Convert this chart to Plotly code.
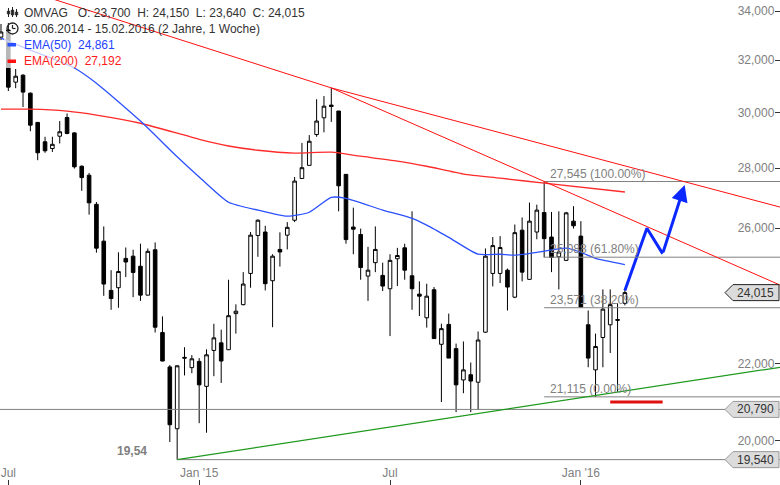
import math
import pandas as pd
import plotly.graph_objects as go

# ---------------- data ----------------
first_week = "2014-06-30"
n_weeks = 86
dates = pd.date_range(first_week, periods=n_weeks, freq="7D")

opens = [32.92, 33.21, 31.14, 31.41, 30.72, 29.63, 28.93, 28.69, 29.13, 29.81,
         29.25, 28.07, 27.76, 26.78, 25.59, 24.08, 24.16, 25.05, 25.12, 24.81,
         23.94, 25.32, 22.86, 21.91, 20.30, 22.17, 21.89, 22.06, 21.39, 22.36,
         22.57, 22.38, 23.40, 23.66, 24.59, 25.77, 25.88, 24.37, 25.33, 25.78,
         26.26, 27.65, 28.10, 29.19, 29.80, 30.27, 30.05, 27.79, 26.04, 25.80,
         24.51, 24.92, 24.53, 24.13, 25.04, 25.38, 24.52, 23.97, 23.28, 24.10,
         22.53, 23.09, 22.41, 21.56, 21.70, 21.50, 22.87, 24.59, 24.59, 24.69,
         23.88, 25.94, 24.41, 25.88, 26.51, 25.72, 25.10, 24.99, 26.23, 25.75,
         23.08, 21.83, 22.72, 23.08, 23.23, 23.700]
highs = [33.46, 33.50, 31.65, 31.45, 30.75, 29.65, 29.11, 29.11, 29.68, 29.96,
         29.27, 28.10, 27.84, 26.86, 26.06, 24.69, 25.24, 25.39, 25.32, 25.51,
         25.36, 25.55, 23.32, 21.96, 21.95, 22.45, 22.23, 22.15, 22.39, 23.11,
         22.94, 24.40, 23.67, 24.63, 25.88, 26.29, 26.08, 25.18, 25.87, 26.20,
         27.70, 28.89, 29.17, 30.49, 30.61, 30.92, 30.05, 27.79, 26.67, 25.99,
         25.41, 26.06, 24.92, 25.18, 25.38, 25.51, 26.55, 24.35, 24.28, 24.18,
         23.11, 23.40, 22.55, 22.61, 22.03, 22.89, 25.36, 25.72, 25.75, 24.74,
         26.12, 26.35, 26.84, 26.77, 27.545, 26.53, 26.55, 26.53, 26.72, 26.23,
         23.49, 22.83, 24.11, 24.11, 23.70, 24.150]
lows = [32.80, 30.80, 30.91, 30.20, 29.31, 28.28, 28.54, 28.57, 28.87, 29.20,
        27.99, 27.23, 26.44, 25.23, 23.92, 23.51, 23.57, 24.48, 23.88, 23.77,
        23.93, 22.86, 22.06, 19.97, 19.54, 21.68, 21.74, 20.44, 20.20, 21.66,
        21.48, 22.37, 22.83, 23.64, 24.16, 25.10, 24.08, 23.01, 24.80, 25.33,
        26.20, 27.63, 28.10, 29.11, 29.27, 29.65, 26.55, 25.51, 25.18, 24.40,
        23.77, 24.63, 24.06, 22.76, 24.21, 24.40, 23.51, 23.33, 23.00, 22.69,
        20.98, 22.15, 20.72, 21.21, 20.72, 20.78, 22.85, 24.20, 24.30, 23.49,
        23.85, 24.35, 24.41, 25.65, 25.08, 24.63, 24.11, 24.97, 25.99, 23.59,
        21.90, 21.115, 21.90, 22.29, 21.25, 23.640]
closes = [33.13, 30.95, 31.37, 30.76, 29.53, 28.54, 28.61, 28.84, 29.29, 29.23,
          28.05, 27.68, 26.83, 25.37, 24.27, 23.84, 24.65, 24.94, 24.62, 23.94,
          25.27, 23.01, 22.07, 20.40, 21.94, 22.15, 22.13, 21.43, 22.24, 22.71,
          22.07, 23.34, 23.47, 24.27, 25.78, 26.26, 24.28, 25.12, 25.25, 26.03,
          27.56, 28.02, 28.95, 29.68, 30.23, 30.22, 27.40, 25.64, 25.97, 24.77,
          24.69, 25.33, 24.21, 24.99, 25.14, 24.69, 24.13, 23.91, 23.91, 22.69,
          22.97, 22.15, 21.43, 21.83, 21.53, 22.65, 25.12, 25.45, 25.39, 24.18,
          25.86, 24.63, 26.23, 26.59, 25.67, 25.08, 25.25, 26.50, 26.08, 23.59,
          22.15, 22.47, 23.53, 23.66, 23.21, 24.015]

ema50_idx = [0, 4, 10, 13, 19, 24, 27, 31, 35, 39, 42, 45, 47, 52, 56, 58, 61,
             65, 68, 70, 73, 77, 79, 81, 85]
ema50_val = [32.88, 32.40, 31.69, 31.10, 29.68, 28.40, 27.70, 26.85, 26.59, 26.39,
             26.52, 27.01, 26.98, 26.59, 26.32, 26.10, 25.71, 25.18, 25.18, 25.15,
             25.24, 25.37, 25.24, 25.05, 24.861]
ema200_idx = [0, 4, 9, 13, 19, 27, 31, 35, 40, 45, 49, 54, 58, 63, 68, 74, 85]
ema200_val = [30.12, 30.12, 30.045, 29.90, 29.60, 29.02, 28.78, 28.63, 28.53, 28.56,
              28.42, 28.25, 28.07, 27.80, 27.66, 27.49, 27.192]

fib_levels = [27.545, 25.088, 23.571, 21.115]
fib_labels = ["100.00%", "61.80%", "38.20%", "0.00%"]
fib_start_idx = 74

support_level = 20.790
low_level = 19.540
low_idx = 24
last_close = 24.015

# trend lines: (start date, start value, end date, end value)
chart_end = "2016-07-11 22:00"
chart_start = "2014-06-29 01:06"
red_lines = [("2014-06-30", 35.22, "2015-05-11", 30.92),
             ("2015-05-11", 30.92, chart_end, 26.69),
             ("2015-05-11", 30.92, chart_end, 24.24)]
green_line = ("2014-12-15", 19.54, chart_end, 21.90)

arrow_dates = ["2016-02-15", "2016-03-07", "2016-03-22", "2016-04-12"]
arrow_values = [24.08, 26.00, 25.20, 27.43]
red_bar = ("2016-02-01", "2016-03-22", 20.98)

NB = "\u00a0"
info_line = ("OMVAG" + NB * 3 + "O: 23,700" + NB * 2 + "H: 24,150" + NB * 2
             + "L: 23,640" + NB * 2 + "C: 24,015")
period_line = "30.06.2014 - 15.02.2016 (2 Jahre, 1 Woche)"
ema50_text = "EMA(50)" + NB * 2 + "24,861"
ema200_text = "EMA(200)" + NB * 2 + "27,192"

x_tickvals = ["2014-07-07", "2015-01-05", "2015-07-06", "2016-01-04"]
x_ticktext = ["Jul", "Jan '15", "Jul", "Jan '16"]
y_tickvals = [20, 22, 26, 28, 30, 32, 34]

# ---------------- figure ----------------
W, H = 780, 485
FONT = "Liberation Sans, Arial, sans-serif"
GRAY = "#808080"
BLUE_EMA = "#2b50ff"
RED_EMA = "#ff2a2a"


def de(v, nd=3):
    return f"{v:.{nd}f}".replace(".", ",")


def px(xp):
    return xp / W


def py(yp):
    return 1 - yp / H


fig = go.Figure()

fig.add_trace(go.Candlestick(
    x=dates, open=opens, high=highs, low=lows, close=closes,
    increasing=dict(line=dict(color="black", width=1), fillcolor="white"),
    decreasing=dict(line=dict(color="black", width=1), fillcolor="black"),
    whiskerwidth=0, hoverinfo="skip", showlegend=False))

fig.add_trace(go.Scatter(
    x=[dates[i] for i in ema200_idx], y=ema200_val, mode="lines",
    line=dict(color=RED_EMA, width=1.3, shape="spline", smoothing=0.6),
    hoverinfo="skip", showlegend=False))
fig.add_trace(go.Scatter(
    x=[dates[i] for i in ema50_idx], y=ema50_val, mode="lines",
    line=dict(color=BLUE_EMA, width=1.3, shape="spline", smoothing=0.6),
    hoverinfo="skip", showlegend=False))

# blue projection path
fig.add_trace(go.Scatter(
    x=arrow_dates[:3], y=arrow_values[:3], mode="lines",
    line=dict(color="#0a28ff", width=3), hoverinfo="skip", showlegend=False))

shapes = []
# horizontal levels
shapes.append(dict(type="line", xref="paper", yref="y", x0=0, x1=1,
                   y0=support_level, y1=support_level,
                   line=dict(color=GRAY, width=1)))
shapes.append(dict(type="line", xref="x", yref="y", x0=dates[low_idx], x1=chart_end,
                   y0=low_level, y1=low_level, line=dict(color=GRAY, width=1)))
for lv in fib_levels:
    shapes.append(dict(type="line", xref="x", yref="y", x0=dates[fib_start_idx],
                       x1=chart_end, y0=lv, y1=lv, line=dict(color=GRAY, width=1)))
# trend lines
for (d0, v0, d1, v1) in red_lines:
    shapes.append(dict(type="line", xref="x", yref="y", x0=d0, y0=v0, x1=d1, y1=v1,
                       line=dict(color="#ff1010", width=1)))
shapes.append(dict(type="line", xref="x", yref="y", x0=green_line[0], y0=green_line[1],
                   x1=green_line[2], y1=green_line[3],
                   line=dict(color="#1f9a1f", width=1.2)))
shapes.append(dict(type="line", xref="x", yref="y", x0=red_bar[0], x1=red_bar[1],
                   y0=red_bar[2], y1=red_bar[2], line=dict(color="#e01010", width=3)))

# legend translucent background
shapes.append(dict(type="rect", xref="paper", yref="paper", x0=px(4), x1=px(130),
                   y0=py(68), y1=py(31), fillcolor="rgba(255,255,255,0.72)",
                   line=dict(width=0), layer="above"))
# legend markers
shapes.append(dict(type="rect", xref="paper", yref="paper", x0=px(7.5), x1=px(16),
                   y0=py(46.5), y1=py(43), fillcolor=BLUE_EMA, line=dict(width=0),
                   layer="above"))
shapes.append(dict(type="rect", xref="paper", yref="paper", x0=px(7.5), x1=px(16),
                   y0=py(63), y1=py(59.5), fillcolor="#ff1010", line=dict(width=0),
                   layer="above"))
# candle icon
for cx, t, b, bt, bb in [(8.5, 8, 17, 11, 14), (12.5, 7, 17, 10, 15), (16.5, 9, 17, 12, 15)]:
    shapes.append(dict(type="line", xref="paper", yref="paper", x0=px(cx), x1=px(cx),
                       y0=py(b), y1=py(t), line=dict(color="#222", width=1),
                       layer="above"))
    shapes.append(dict(type="rect", xref="paper", yref="paper", x0=px(cx - 1.3),
                       x1=px(cx + 1.3), y0=py(bb), y1=py(bt), fillcolor="#222",
                       line=dict(color="#222", width=0.5), layer="above"))
# clock icon
shapes.append(dict(type="circle", xref="paper", yref="paper", x0=px(7), x1=px(18),
                   y0=py(34), y1=py(23), line=dict(color="#222", width=1.3),
                   layer="above"))
shapes.append(dict(type="line", xref="paper", yref="paper", x0=px(12.5), x1=px(12.5),
                   y0=py(28.5), y1=py(25), line=dict(color="#222", width=1.2),
                   layer="above"))
shapes.append(dict(type="line", xref="paper", yref="paper", x0=px(12.5), x1=px(15.5),
                   y0=py(28.5), y1=py(28.5), line=dict(color="#222", width=1.2),
                   layer="above"))

# price tags on the right
for val, border in [(last_close, "#222"), (support_level, "#999"), (low_level, "#999")]:
    shapes.append(dict(type="path", xref="paper", yref="y", xsizemode="pixel",
                       ysizemode="pixel", xanchor=1, yanchor=val,
                       path="M-1,8 L-47,8 L-55,0 L-47,-8 L-1,-8 Z",
                       fillcolor="#dcdcdc", line=dict(color=border, width=1),
                       layer="above"))

annotations = []
for lv, lab in zip(fib_levels, fib_labels):
    annotations.append(dict(x=dates[fib_start_idx], y=math.log10(lv), xref="x", yref="y",
                            text=f"{de(lv)} ({lab})", showarrow=False,
                            xanchor="left", yanchor="bottom", xshift=4, yshift=-1,
                            font=dict(size=12, color=GRAY, family=FONT)))
for val in [last_close, support_level, low_level]:
    annotations.append(dict(x=1, y=math.log10(val), xref="paper", yref="y",
                            text=de(val), showarrow=False, xanchor="right",
                            yanchor="middle", xshift=-4,
                            font=dict(size=12, color="#333", family=FONT)))
annotations.append(dict(x=dates[low_idx], y=math.log10(low_level), xref="x", yref="y",
                        text="<b>" + de(low_level, 2) + "</b>", showarrow=False,
                        xanchor="right", yanchor="middle", xshift=-28, yshift=9,
                        font=dict(size=12, color=GRAY, family=FONT)))
# arrow head segment
annotations.append(dict(x=arrow_dates[3], y=math.log10(arrow_values[3]), xref="x", yref="y",
                        ax=arrow_dates[2], ay=math.log10(arrow_values[2]),
                        axref="x", ayref="y", text="", showarrow=True,
                        arrowhead=2, arrowsize=1.1, arrowwidth=3, arrowcolor="#0a28ff"))
# info legend texts
for txt, ypix, col in [(info_line, 12.5, "#333"), (period_line, 28.5, "#333"),
                       (ema50_text, 44.5, "#1f44ff"), (ema200_text, 61, "#ff1a1a")]:
    annotations.append(dict(x=px(22), y=py(ypix), xref="paper", yref="paper", text=txt,
                            showarrow=False, xanchor="left", yanchor="middle",
                            font=dict(size=12, color=col, family=FONT)))

fig.update_layout(
    width=W, height=H, margin=dict(l=0, r=0, t=0, b=0),
    paper_bgcolor="white", plot_bgcolor="white", showlegend=False,
    separators=",.", font=dict(family=FONT, size=12, color=GRAY),
    shapes=shapes, annotations=annotations,
    xaxis=dict(type="date", range=[chart_start, chart_end],
               rangeslider=dict(visible=False), showgrid=False, zeroline=False,
               showline=False, tickvals=x_tickvals, ticktext=x_ticktext,
               ticks="inside", ticklen=5, tickcolor="#333",
               ticklabelposition="inside", automargin=False,
               tickfont=dict(size=12, color=GRAY, family=FONT)),
    yaxis=dict(type="log", side="right",
               range=[1.277323, 1.537377], showgrid=False, zeroline=False,
               showline=False, tickvals=y_tickvals, tickformat=".3f",
               ticks="inside", ticklen=5, tickcolor="#333",
               ticklabelposition="inside", automargin=False,
               tickfont=dict(size=12, color=GRAY, family=FONT)),
)

fig.write_html("out.html",
               config={"displayModeBar": False, "staticPlot": True},
               post_script="document.body.style.margin='0px';"
                           "document.body.style.overflow='hidden';")
